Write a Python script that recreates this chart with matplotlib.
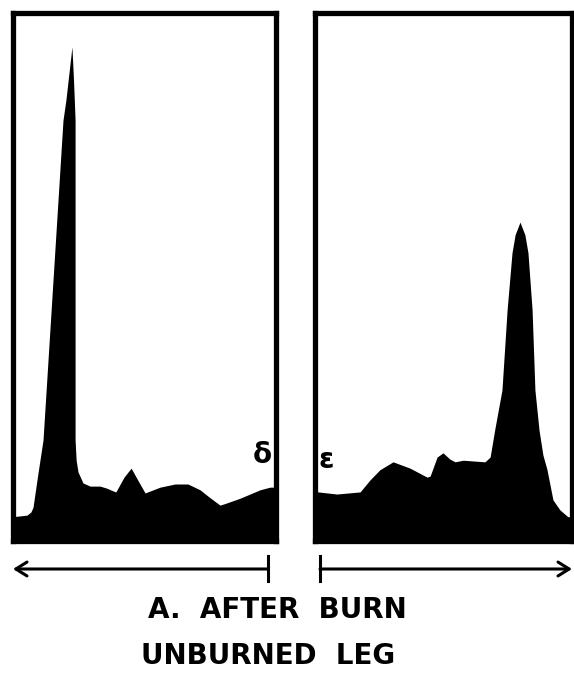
import matplotlib.pyplot as plt
from matplotlib.patches import FancyArrowPatch

# densitometer traces, x = migration (% of strip), y = density (% of frame)
left_x = [0, 5.5, 7.0, 7.8, 9.7, 11.6, 15.4, 19.2, 20.3, 22.6, 23.2, 23.8, 23.8, 24.2,
          24.9, 26.8, 29.5, 33.3, 35.9, 38.2, 39.3, 42.4, 45.1, 47.0, 50.4, 56.1, 61.8,
          66.7, 71.3, 75.1, 78.9, 80.8, 86.5, 94.1, 97.9, 100]
left_y = [4.5, 4.8, 5.4, 6.3, 12.8, 19.0, 49.3, 79.6, 83.4, 93.5, 87.2, 79.6, 19.0, 15.2,
          13.0, 10.9, 10.3, 10.3, 9.9, 9.4, 9.2, 12.0, 13.7, 12.0, 9.0, 10.1, 10.7,
          10.7, 9.6, 8.1, 6.7, 7.0, 8.0, 9.6, 10.1, 10.1]

right_x = [0, 1.4, 8.7, 17.7, 21.6, 25.4, 30.5, 37.1, 43.7, 44.9, 47.6, 49.9, 52.6, 54.6,
           57.7, 66.2, 68.2, 70.1, 72.8, 74.8, 76.7, 77.9, 79.8, 81.7, 82.9, 84.5, 85.6,
           87.2, 88.7, 90.3, 92.6, 95.3, 98.4, 100]
right_y = [9.2, 9.2, 8.8, 9.2, 11.5, 13.4, 14.9, 13.7, 12.0, 12.2, 15.8, 16.6, 15.4, 14.9,
           15.2, 14.9, 15.8, 21.3, 28.5, 43.7, 54.5, 57.9, 60.3, 57.9, 54.5, 43.7, 28.5,
           20.9, 16.2, 13.4, 7.7, 5.8, 4.5, 4.5]

W, H = 574, 674
fig = plt.figure(figsize=(W / 100, H / 100), dpi=100)


def panel(x0, x1, y0, y1, xs, ys):
    ax = fig.add_axes([x0 / W, 1 - y1 / H, (x1 - x0) / W, (y1 - y0) / H])
    ax.fill_between(xs, ys, 0, color='black', lw=0)
    ax.set_xlim(0, 100)
    ax.set_ylim(0, 100)
    ax.set_xticks([])
    ax.set_yticks([])
    for s in ax.spines.values():
        s.set_linewidth(3.8)
        s.set_color('black')
    return ax


ax1 = panel(12.5, 275.5, 12.5, 540.5, left_x, left_y)
ax2 = panel(314.5, 572, 12.5, 540.5, right_x, right_y)

ax1.text(94.9, 16.2, 'δ', fontsize=20, fontweight='bold', ha='center', va='center')
ax2.text(4.5, 15.2, 'ε', fontsize=20, fontweight='bold', ha='center', va='center')


# direction arrows under the strips
def fx(px):
    return px / W


def fy(py):
    return 1 - py / H


fig.add_artist(plt.Line2D([fx(268), fx(268)], [fy(556), fy(581)], color='black', lw=2.2))
fig.add_artist(plt.Line2D([fx(320), fx(320)], [fy(556), fy(581)], color='black', lw=2.2))
fig.patches.append(FancyArrowPatch(
    (fx(268), fy(569)), (fx(13), fy(569)), transform=fig.transFigure,
    arrowstyle='->,head_length=8,head_width=5', color='black', lw=2.2, shrinkA=0, shrinkB=0))
fig.patches.append(FancyArrowPatch(
    (fx(320), fy(569)), (fx(572), fy(569)), transform=fig.transFigure,
    arrowstyle='->,head_length=8,head_width=5', color='black', lw=2.2, shrinkA=0, shrinkB=0))

fig.text(fx(277), fy(618), 'A.  AFTER  BURN', fontsize=20, fontweight='bold',
         ha='center', va='baseline')
fig.text(fx(268), fy(664), 'UNBURNED  LEG', fontsize=20, fontweight='bold',
         ha='center', va='baseline')

fig.savefig('out.png', dpi=100, facecolor='white')
